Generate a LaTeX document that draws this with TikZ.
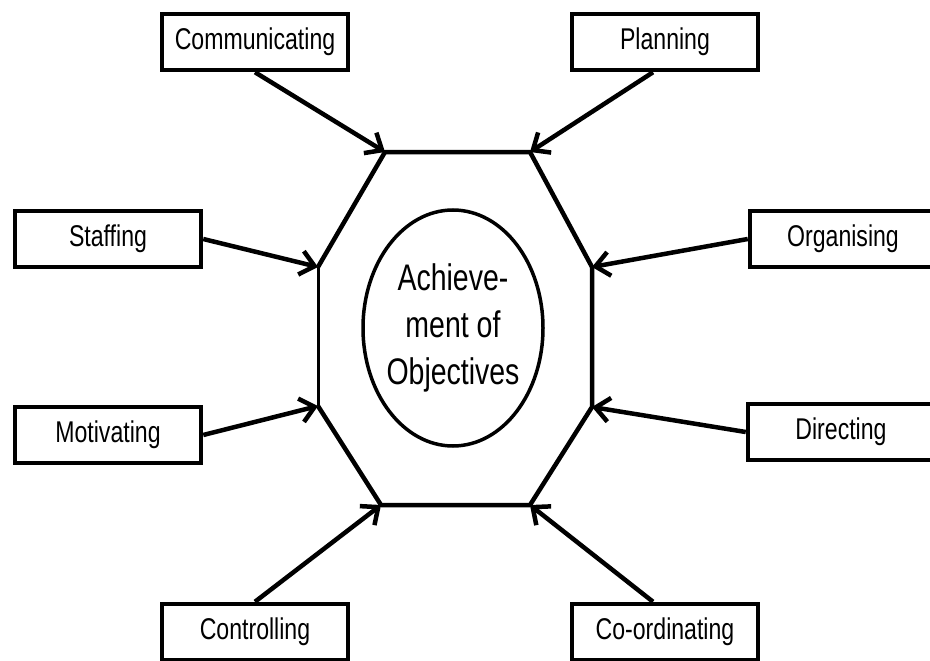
\documentclass[tikz,border=0pt]{standalone}
\usepackage{fontspec}
\setmainfont{Liberation Sans}
\usepackage{graphicx}
\usetikzlibrary{arrows.meta,shapes.geometric}
\newcommand{\squeeze}[1]{\scalebox{0.77}[1]{#1}}

\begin{document}
\begin{tikzpicture}[x=1pt, y=-1pt, line width=4pt,
  task/.style={draw, rectangle, line width=4.5pt, minimum width=186pt, minimum height=56pt, inner sep=0pt, font=\fontsize{30}{36}\selectfont},
  feed/.style={-{Straight Barb[length=14pt, width=24pt]}, line width=4.5pt},
  hub/.style={line width=4.5pt, line join=round},
  goal/.style={draw, ellipse, line width=3.5pt, minimum width=180pt, minimum height=236pt},
  goal text/.style={align=center, font=\fontsize{37}{47}\selectfont}]
\useasboundingbox (0,0) rectangle (930,661);
\clip (0,0) rectangle (930,661);
\node[task] (comm) at (255,42) {\squeeze{Communicating}};
\node[task] (plan) at (665,42) {\squeeze{Planning}};
\node[task] (staff) at (108,239) {\squeeze{Staffing}};
\node[task] (org) at (843,239) {\squeeze{Organising}};
\node[task] (motiv) at (108,435) {\squeeze{Motivating}};
\node[task] (direct) at (841,432) {\squeeze{Directing}};
\node[task] (ctrl) at (255,632) {\squeeze{Controlling}};
\node[task] (coord) at (665,632) {\squeeze{Co-ordinating}};
\coordinate (tl) at (385,152);
\coordinate (tr) at (530,152);
\coordinate (rt) at (592,267);
\coordinate (rb) at (592,407);
\coordinate (br) at (530,505);
\coordinate (bl) at (381,505);
\coordinate (lb) at (318,406);
\coordinate (lt) at (318,267);
\draw[hub] (lt) -- (tl) -- (tr) -- (rt) -- (rb) -- (br) -- (bl) -- (lb);
\draw[hub, line width=3pt] (lb) -- (lt);
\node[goal] (goal) at (453,328) {};
\node[goal text] at (goal.center) {\squeeze{Achieve-}\\ \squeeze{ment of}\\ \squeeze{Objectives}};
\draw[feed] (comm.south) -- (tl);
\draw[feed] ([xshift=-12pt]plan.south) -- (tr);
\draw[feed] (staff.east) -- (lt);
\draw[feed] (org.west) -- (rt);
\draw[feed] (motiv.east) -- (lb);
\draw[feed] (direct.west) -- (rb);
\draw[feed] (ctrl.north) -- (bl);
\draw[feed] ([xshift=-12pt]coord.north) -- (br);
\end{tikzpicture}
\end{document}
